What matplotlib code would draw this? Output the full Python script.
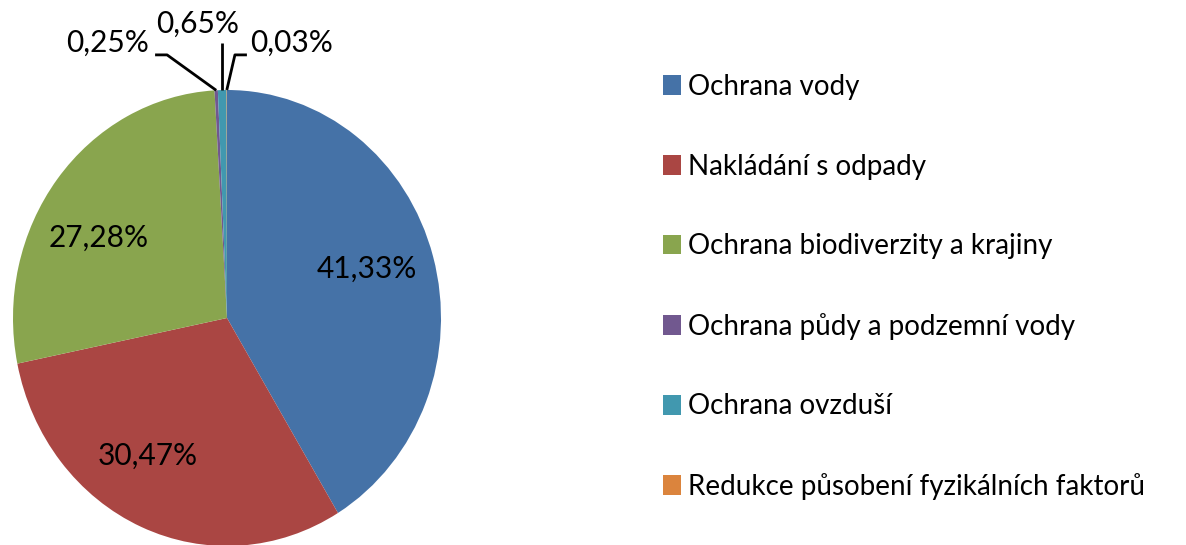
import matplotlib
matplotlib.use("Agg")
import matplotlib.pyplot as plt
import numpy as np

categories = [
    "Ochrana vody",
    "Nakládání s odpady",
    "Ochrana biodiverzity a krajiny",
    "Ochrana půdy a podzemní vody",
    "Ochrana ovzduší",
    "Redukce působení fyzikálních faktorů",
]
values = [41.33, 30.47, 27.28, 0.25, 0.65, 0.03]
colors = ["#4572A7", "#AA4643", "#89A54E", "#71588F", "#4198AF", "#DB843D"]

plt.rcParams['font.family'] = ['Lato', 'DejaVu Sans']

W, H = 1186, 545
fig = plt.figure(figsize=(W / 100, H / 100), dpi=100)

# pie axes (slightly elliptical like the reference)
cx, cy, rx, ry = 227, 318, 214, 228
ax = fig.add_axes([(cx - rx) / W, (H - cy - ry) / H, 2 * rx / W, 2 * ry / H])
wedges, _ = ax.pie(values, colors=colors, startangle=90, counterclock=False,
                   radius=1, wedgeprops=dict(linewidth=0))
ax.set_aspect('auto')
ax.set_xlim(-1, 1)
ax.set_ylim(-1, 1)
ax.axis('off')

def fmt(v):
    return f"{v:.2f}%".replace('.', ',')

label_fs = 21.5
# inside labels for the large slices
inside_pos = [(0.654, 0.215), (-0.369, -0.605), (-0.598, 0.353)]
for v, (x, y) in zip(values[:3], inside_pos):
    ax.text(x, y, fmt(v), ha='center', va='center', fontsize=label_fs, color='black')

# outside labels with leader lines for the small slices
out_text = [(-0.560, 1.208), (-0.138, 1.289), (0.301, 1.208)]
elbows = [[(-0.336, 1.154), (-0.280, 1.154)], None, [(0.093, 1.154), (0.037, 1.154)]]
for i, (v, w) in enumerate(zip(values[3:], wedges[3:])):
    ang = np.deg2rad((w.theta1 + w.theta2) / 2)
    ex, ey = np.cos(ang), np.sin(ang)
    tx, ty = out_text[i]
    ax.text(tx, ty, fmt(v), ha='center', va='center', fontsize=label_fs,
            color='black', clip_on=False)
    if elbows[i] is None:
        pts = [(ex, 1.206), (ex, ey)]
    else:
        pts = elbows[i] + [(ex, ey)]
    xs, ys = zip(*pts)
    ax.plot(xs, ys, color='black', lw=2.0, clip_on=False, solid_capstyle='butt')

leg = fig.legend(wedges, categories, loc='center left',
                 bbox_to_anchor=(663 / W, (H - 287) / H),
                 frameon=False, fontsize=20, handlelength=0.65, handleheight=0.72,
                 handletextpad=0.25, labelspacing=1.93, borderpad=0, borderaxespad=0)
for t in leg.get_texts():
    t.set_color('black')

fig.savefig("out.png", dpi=100)
